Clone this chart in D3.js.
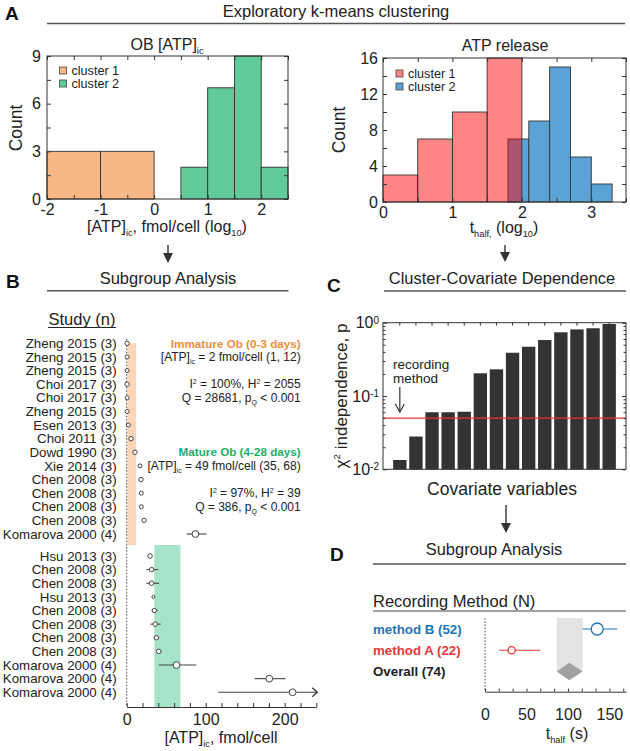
<!DOCTYPE html>
<html><head><meta charset="utf-8">
<script src="https://cdn.jsdelivr.net/npm/d3@7"></script>
<style>
body{margin:0;background:#fff}
svg{display:block}
text{font-family:"Liberation Sans",Arial,Helvetica,sans-serif}
</style>
</head><body>
<svg id="c" width="630" height="751"></svg>
<script>
// ---------------- DATA ----------------
// Panel A (left): OB [ATP]ic histogram, log10 fmol/cell
const obEdgesC1 = [-2, -1, 0];
const obCountsC1 = [3, 3];
const obEdgesC2 = [0.5, 1, 1.5, 2, 2.5];
const obCountsC2 = [2, 7, 9, 2];
const obTickLabelsX = [-2, -1, 0, 1, 2];
const obTickLabelsY = [0, 3, 6, 9];

// Panel A (right): ATP release t_half histogram, log10
const relEdgesC1 = [0, 0.5, 1, 1.5, 2];
const relCountsC1 = [3, 7, 10, 16];
const relEdgesC2 = [1.8, 2.1, 2.4, 2.7, 3.0, 3.3];
const relCountsC2 = [7, 9, 15, 5, 2];
const relTickLabelsX = [0, 1, 2, 3];
const relTickLabelsY = [0, 4, 8, 12, 16];

// Panel B: forest plot
const immStudies = ["Zheng 2015 (3)","Zheng 2015 (3)","Zheng 2015 (3)","Choi 2017 (3)","Choi 2017 (3)",
  "Zheng 2015 (3)","Esen 2013 (3)","Choi 2011 (3)","Dowd 1990 (3)","Xie 2014 (3)",
  "Chen 2008 (3)","Chen 2008 (3)","Chen 2008 (3)","Chen 2008 (3)","Komarova 2000 (4)"];
const immMean = [0.5, 0.5, 0.5, 0.4, 0.6, 0.5, 2.1, 5.5, 10.5, 16.8, 18, 18.5, 18.5, 22, 87];
const immLo   = [0.3, 0.3, 0.3, 0.2, 0.4, 0.3, 1.8, 5.0, 10.0, 16.3, 17.5, 18.0, 18.0, 21.5, 76];
const immHi   = [0.7, 0.7, 0.7, 0.6, 0.8, 0.7, 2.4, 6.0, 11.0, 17.3, 18.5, 19.0, 19.0, 22.5, 101];
const immSize = [2.2, 2.0, 2.0, 2.2, 2.0, 2.0, 2.0, 2.2, 2.2, 2.0, 2.2, 2.0, 2.0, 2.2, 3.4];

const matStudies = ["Hsu 2013 (3)","Chen 2008 (3)","Chen 2008 (3)","Hsu 2013 (3)","Chen 2008 (3)",
  "Chen 2008 (3)","Chen 2008 (3)","Chen 2008 (3)","Komarova 2000 (4)","Komarova 2000 (4)","Komarova 2000 (4)"];
const matMean = [29.5, 31.6, 31.6, 33.8, 35, 36, 37.5, 40.5, 63, 180.5, 210];
const matLo   = [28, 25, 25, 33.2, 31.5, 30, 34, 37, 40.5, 162, 116];
const matHi   = [31, 40, 41, 34.4, 39, 43, 41, 44, 88, 201, 260];
const matSize = [2.3, 2.3, 2.3, 1.5, 2.2, 2.3, 2.2, 2.3, 3.4, 3.4, 3.4];

const pooledImm = [2, 1, 12];   // mean, lo, hi
const pooledMat = [49, 35, 68];
const forestTickLabels = [0, 100, 200];

// Panel C: chi-square independence p per covariate (sorted)
const covP = [0.0134, 0.028, 0.060, 0.060, 0.061, 0.204, 0.231, 0.389, 0.47, 0.58, 0.74, 0.81, 0.84, 0.96];
const pThreshold = 0.05;
const covTickLabels = [0.01, 0.1, 1];

// Panel D: recording method subgroup
const methodLabels = ["method B (52)", "method A (22)", "Overall (74)"];
const methodMean = [135.3, 32.1, 101.6];
const methodLo   = [117.7, 16.9, 86.4];
const methodHi   = [159.4, 67.0, 117.7];
const methodTickLabels = [0, 50, 100, 150];

// ---------------- HELPERS ----------------
const svg = d3.select("#c");
const INK = "#222";
const FONT = "'Liberation Sans', Arial, Helvetica, sans-serif";

function txt(x, y, parts, o = {}) {
  const fs = o.size || 16;
  const t = svg.append("text").attr("x", x).attr("y", y).attr("font-size", fs)
    .attr("text-anchor", o.anchor || "start").attr("fill", o.color || INK)
    .attr("font-weight", o.bold ? "bold" : "normal");
  if (o.rotate) t.attr("transform", `rotate(${o.rotate},${x},${y})`);
  let shift = 0;
  (typeof parts === "string" ? [[parts]] : parts).forEach(([s, k]) => {
    const target = k === "sub" ? 0.28 * fs : k === "sup" ? -0.4 * fs : 0;
    const sp = t.append("tspan").text(s).attr("dy", target - shift);
    if (k) sp.attr("font-size", fs * 0.58);
    shift = target;
  });
  return t;
}
function hline(x1, x2, y, color = "#555", w = 1.4) {
  svg.append("line").attr("x1", x1).attr("x2", x2).attr("y1", y).attr("y2", y)
    .attr("stroke", color).attr("stroke-width", w);
}
function arrowDown(x, y1, y2) {
  svg.append("line").attr("x1", x).attr("x2", x).attr("y1", y1).attr("y2", y2 - 8)
    .attr("stroke", "#333").attr("stroke-width", 1.4);
  svg.append("path").attr("d", `M${x - 5},${y2 - 10} L${x + 5},${y2 - 10} L${x},${y2} Z`).attr("fill", "#333");
}
function styleAxis(g, fs = 16) {
  g.select(".domain").remove();
  g.selectAll("line").attr("stroke", "#333");
  g.selectAll("text").attr("font-size", fs).attr("fill", INK).attr("font-family", FONT);
}
const labelFmt = labs => d => labs.some(v => Math.abs(v - d) < 1e-6) ? String(d) : "";

function boxAxes(x, y, xTicks, yTicks, xLabs, yLabs, xpad, ypad) {
  const [x0, x1] = x.range(), [yb, yt] = y.range();
  svg.append("g").attr("transform", `translate(0,${yb})`)
    .call(d3.axisBottom(x).tickValues(xTicks).tickSize(-4).tickPadding(xpad).tickFormat(labelFmt(xLabs))).call(styleAxis);
  svg.append("g").attr("transform", `translate(0,${yt})`)
    .call(d3.axisTop(x).tickValues(xTicks).tickSize(-4).tickFormat("")).call(styleAxis);
  svg.append("g").attr("transform", `translate(${x0},0)`)
    .call(d3.axisLeft(y).tickValues(yTicks).tickSize(-4).tickPadding(ypad).tickFormat(labelFmt(yLabs))).call(styleAxis);
  svg.append("g").attr("transform", `translate(${x1},0)`)
    .call(d3.axisRight(y).tickValues(yTicks).tickSize(-4).tickFormat("")).call(styleAxis);
  svg.append("rect").attr("x", x0).attr("y", yt).attr("width", x1 - x0).attr("height", yb - yt)
    .attr("fill", "none").attr("stroke", "#333").attr("stroke-width", 1);
}
function histBars(x, y, edges, counts, fill) {
  svg.append("g").selectAll("rect").data(counts).join("rect")
    .attr("x", (d, i) => x(edges[i])).attr("width", (d, i) => x(edges[i + 1]) - x(edges[i]))
    .attr("y", d => y(d)).attr("height", d => y(0) - y(d))
    .attr("fill", fill).attr("stroke", "#333").attr("stroke-width", 0.9);
}
function legendBox(x, y, fill, label) {
  svg.append("rect").attr("x", x).attr("y", y - 3.5).attr("width", 7).attr("height", 7)
    .attr("fill", fill).attr("stroke", "#444").attr("stroke-width", 0.8);
  txt(x + 12, y + 4.3, label, { size: 12.6 });
}

// ---------------- HEADER A ----------------
txt(5, 20, "A", { size: 19, bold: true, color: "#111" });
txt(336, 17, "Exploratory k-means clustering", { size: 16.5, anchor: "middle" });
hline(47, 625, 23.5);

// ---------------- PANEL A LEFT ----------------
const orange = "#f7b886", green = "#61cb99";
const xOb = d3.scaleLinear().domain([-2, 2.5]).range([47, 288]);
const yOb = d3.scaleLinear().domain([0, 9]).range([199, 56]);
histBars(xOb, yOb, obEdgesC1, obCountsC1, orange);
histBars(xOb, yOb, obEdgesC2, obCountsC2, green);
boxAxes(xOb, yOb, d3.range(-2, 2.51, 0.5), d3.range(0, 9.01, 1.5), obTickLabelsX, obTickLabelsY, 4.5, 6);
legendBox(59.5, 70.5, orange, "cluster 1");
legendBox(59.5, 83.5, green, "cluster 2");
txt(167, 50, [["OB [ATP]"], ["ic", "sub"]], { size: 16, anchor: "middle" });
txt(21.5, 128, "Count", { size: 17.5, anchor: "middle", rotate: -90 });
txt(167, 232, [["[ATP]"], ["ic", "sub"], [", fmol/cell (log"], ["10", "sub"], [")"]], { size: 16, anchor: "middle" });

// ---------------- PANEL A RIGHT ----------------
const blue = "#5ba3d6", red = "rgba(255,0,0,0.48)";
const xRel = d3.scaleLinear().domain([0, 3.5]).range([383, 626]);
const yRel = d3.scaleLinear().domain([0, 16]).range([202, 58]);
histBars(xRel, yRel, relEdgesC2, relCountsC2, blue);
histBars(xRel, yRel, relEdgesC1, relCountsC1, red);
boxAxes(xRel, yRel, d3.range(0, 3.51, 0.5), d3.range(0, 16.01, 2), relTickLabelsX, relTickLabelsY, 5, 5);
legendBox(396, 73.5, red, "cluster 1");
legendBox(396, 86.5, blue, "cluster 2");
txt(505, 51, "ATP release", { size: 16, anchor: "middle" });
txt(345, 130, "Count", { size: 17.5, anchor: "middle", rotate: -90 });
txt(504, 233, [["t"], ["half,", "sub"], [" (log"], ["10", "sub"], [")"]], { size: 16, anchor: "middle" });

// arrows to B and C
arrowDown(168, 245, 263);
arrowDown(505, 245, 262);

// ---------------- PANEL B ----------------
txt(6, 288, "B", { size: 19, bold: true, color: "#111" });
txt(168, 283.5, "Subgroup Analysis", { size: 16.5, anchor: "middle" });
hline(47, 288.5, 290.7);
txt(82, 325, "Study (n)", { size: 16.5, anchor: "middle" });
hline(48, 116, 327.5, INK, 1);

const xF = d3.scaleLinear().domain([0, 240]).range([126.7, 316.3]);
const yImm = d3.scaleLinear().domain([0, immStudies.length - 1]).range([343.3, 534]);
const yMat = d3.scaleLinear().domain([0, matStudies.length - 1]).range([556, 692.3]);
const axisY = 707;
const split = (yImm(immStudies.length - 1) + yMat(0)) / 2;

// pooled CI bands
svg.append("rect").attr("x", xF(pooledImm[1])).attr("width", xF(pooledImm[2]) - xF(pooledImm[1]))
  .attr("y", yImm(0)).attr("height", split - yImm(0)).attr("fill", "#fbd5b8");
svg.append("rect").attr("x", xF(pooledMat[1])).attr("width", xF(pooledMat[2]) - xF(pooledMat[1]))
  .attr("y", split).attr("height", axisY - split).attr("fill", "#a6e4c9");
// zero line
svg.append("line").attr("x1", xF(0)).attr("x2", xF(0)).attr("y1", 339).attr("y2", axisY)
  .attr("stroke", "#555").attr("stroke-width", 1).attr("stroke-dasharray", "1.6,1.6");

function forestRows(names, mean, lo, hi, size, ys) {
  const g = svg.append("g");
  names.forEach((n, i) => {
    const y = ys(i);
    txt(116.7, y + 4.7, n, { size: 13.3, anchor: "end" });
    const x2 = Math.min(xF(hi[i]), xF.range()[1] + 1);
    g.append("line").attr("x1", xF(lo[i])).attr("x2", x2).attr("y1", y).attr("y2", y)
      .attr("stroke", "#444").attr("stroke-width", 1.1);
    if (hi[i] > xF.domain()[1]) {
      g.append("path").attr("d", `M${x2 - 5},${y - 4.5} L${x2},${y} L${x2 - 5},${y + 4.5}`)
        .attr("fill", "none").attr("stroke", "#333").attr("stroke-width", 1.3);
    }
    g.append("circle").attr("cx", xF(mean[i])).attr("cy", y).attr("r", size[i])
      .attr("fill", "#fff").attr("stroke", "#444").attr("stroke-width", 1);
  });
}
forestRows(immStudies, immMean, immLo, immHi, immSize, yImm);
forestRows(matStudies, matMean, matLo, matHi, matSize, yMat);

svg.append("g").attr("transform", `translate(0,${axisY})`)
  .call(d3.axisBottom(xF).tickValues(d3.range(0, 241, 20)).tickSize(-4).tickSizeOuter(0).tickPadding(6.5)
    .tickFormat(labelFmt(forestTickLabels)))
  .call(g => {
    g.select(".domain").attr("stroke", "#333");
    g.selectAll("line").attr("stroke", "#333");
    g.selectAll("text").attr("font-size", 16).attr("fill", INK).attr("font-family", FONT);
  });
txt(221, 743, [["[ATP]"], ["ic", "sub"], [", fmol/cell"]], { size: 16, anchor: "middle" });

// summary text
const RX = 300.7, ORG = "#ef8e3c", GRN = "#1daf68";
txt(RX, yImm(0) + 4.2, "Immature Ob (0-3 days)", { size: 11.7, anchor: "end", bold: true, color: ORG });
txt(RX, yImm(1) + 4.2, [["[ATP]"], ["ic", "sub"], [" = 2 fmol/cell (1, 12)"]], { size: 12, anchor: "end" });
txt(RX, yImm(3) + 4.2, [["I"], ["2", "sup"], [" = 100%, H"], ["2", "sup"], [" = 2055"]], { size: 12, anchor: "end" });
txt(RX, yImm(4) + 4.2, [["Q = 28681, p"], ["Q", "sub"], [" < 0.001"]], { size: 12, anchor: "end" });
txt(RX, yImm(8) + 4.2, "Mature Ob (4-28 days)", { size: 11.7, anchor: "end", bold: true, color: GRN });
txt(RX, yImm(9) + 4.2, [["[ATP]"], ["ic", "sub"], [" = 49 fmol/cell (35, 68)"]], { size: 12, anchor: "end" });
txt(RX, yImm(11) + 4.2, [["I"], ["2", "sup"], [" = 97%, H"], ["2", "sup"], [" = 39"]], { size: 12, anchor: "end" });
txt(RX, yImm(12) + 4.2, [["Q = 386, p"], ["Q", "sub"], [" < 0.001"]], { size: 12, anchor: "end" });

// ---------------- PANEL C ----------------
txt(327, 292, "C", { size: 19, bold: true, color: "#111" });
txt(502, 284, "Cluster-Covariate Dependence", { size: 16.5, anchor: "middle" });
hline(384, 626, 291);

const xC = d3.scaleBand().domain(d3.range(covP.length)).range([383, 626]).paddingInner(0.17).paddingOuter(0.63);
const yC = d3.scaleLog().domain([0.01, 1]).range([469.3, 322.7]);
svg.append("g").selectAll("rect").data(covP).join("rect")
  .attr("x", (d, i) => xC(i)).attr("width", xC.bandwidth())
  .attr("y", d => yC(d)).attr("height", d => yC(0.01) - yC(d)).attr("fill", "#333");
svg.append("line").attr("x1", 383).attr("x2", 626).attr("y1", yC(pThreshold)).attr("y2", yC(pThreshold))
  .attr("stroke", "#e33").attr("stroke-width", 1.2);

const minorLog = [];
[-2, -1].forEach(k => d3.range(2, 10).forEach(m => minorLog.push(m * Math.pow(10, k))));
svg.append("g").attr("transform", "translate(383,0)")
  .call(d3.axisLeft(yC).tickValues(covTickLabels).tickSize(-4).tickPadding(4).tickFormat(() => "10"))
  .call(styleAxis)
  .call(g => g.selectAll("text").each(function (d) {
    d3.select(this).append("tspan").text(String(Math.round(Math.log10(d))))
      .attr("dy", "-0.45em").attr("font-size", 10);
  }));
svg.append("g").attr("transform", "translate(383,0)")
  .call(d3.axisLeft(yC).tickValues(minorLog).tickSize(-2.5).tickFormat("")).call(styleAxis);
svg.append("g").attr("transform", "translate(626,0)")
  .call(d3.axisRight(yC).tickValues(covTickLabels).tickSize(-4).tickFormat("")).call(styleAxis);
svg.append("g").attr("transform", "translate(626,0)")
  .call(d3.axisRight(yC).tickValues(minorLog).tickSize(-2.5).tickFormat("")).call(styleAxis);
svg.append("g").attr("transform", "translate(0,322.7)")
  .call(d3.axisTop(xC).tickSize(-3).tickFormat("")).call(styleAxis);
svg.append("rect").attr("x", 383).attr("y", 322.7).attr("width", 243).attr("height", 146.6)
  .attr("fill", "none").attr("stroke", "#333");

txt(393, 369, "recording", { size: 13.5 });
txt(393, 383, "method", { size: 13.5 });
const ax = xC(0) + xC.bandwidth() / 2;
svg.append("line").attr("x1", ax).attr("x2", ax).attr("y1", 387).attr("y2", 412).attr("stroke", "#333").attr("stroke-width", 1.2);
svg.append("path").attr("d", `M${ax - 4.5},${404} L${ax},${412} L${ax + 4.5},${404}`)
  .attr("fill", "none").attr("stroke", "#333").attr("stroke-width", 1.2);

txt(346.5, 396, [["χ"], ["2", "sup"], [" independence, p"]], { size: 17, anchor: "middle", rotate: -90 });
txt(502, 495, "Covariate variables", { size: 17.5, anchor: "middle" });

arrowDown(506, 505, 533);

// ---------------- PANEL D ----------------
txt(330, 561, "D", { size: 19, bold: true, color: "#111" });
txt(494, 555, "Subgroup Analysis", { size: 16.5, anchor: "middle" });
hline(373, 626, 564);
txt(373, 607, "Recording Method (N)", { size: 16.5 });
hline(373, 626, 611, "#444", 1.2);

const xD = d3.scaleLinear().domain([0, 170]).range([485, 626]);
const yD = d3.scaleLinear().domain([0, 2]).range([629, 671.5]);
const dAxisY = 691.7;
const colD = ["#1f75bb", "#e8383d", "#222"];

// overall band + diamond
svg.append("rect").attr("x", xD(methodLo[2])).attr("width", xD(methodHi[2]) - xD(methodLo[2]))
  .attr("y", 618).attr("height", yD(2) - 618).attr("fill", "#e3e3e5");
svg.append("path").attr("d",
  `M${xD(methodLo[2])},${yD(2)} L${xD(methodMean[2])},${yD(2) - 8.8} L${xD(methodHi[2])},${yD(2)} L${xD(methodMean[2])},${yD(2) + 8.8} Z`)
  .attr("fill", "#a0a0a2");
svg.append("line").attr("x1", xD(0)).attr("x2", xD(0)).attr("y1", 618).attr("y2", dAxisY)
  .attr("stroke", "#555").attr("stroke-dasharray", "1.6,1.6");

methodLabels.forEach((m, i) => {
  txt(373, yD(i) + 4.7, m, { size: 13.3, bold: true, color: colD[i] });
});
const rD = [6, 3.7];
[0, 1].forEach(i => {
  svg.append("line").attr("x1", xD(methodLo[i])).attr("x2", xD(methodHi[i])).attr("y1", yD(i)).attr("y2", yD(i))
    .attr("stroke", colD[i]).attr("stroke-width", 1.2);
  svg.append("circle").attr("cx", xD(methodMean[i])).attr("cy", yD(i)).attr("r", rD[i])
    .attr("fill", "#fff").attr("stroke", colD[i]).attr("stroke-width", 1.3);
});
svg.append("g").attr("transform", `translate(0,${dAxisY})`)
  .call(d3.axisBottom(xD).tickValues(d3.range(0, 170, 50 / 3)).tickSize(-3).tickSizeOuter(0).tickPadding(16.5)
    .tickFormat(labelFmt(methodTickLabels)))
  .call(g => {
    g.select(".domain").attr("stroke", "#333");
    g.selectAll("line").attr("stroke", "#333");
    g.selectAll("text").attr("font-size", 16).attr("fill", INK).attr("font-family", FONT);
  });
txt(567, 739, [["t"], ["half", "sub"], [" (s)"]], { size: 16, anchor: "middle" });
</script>
</body></html>
